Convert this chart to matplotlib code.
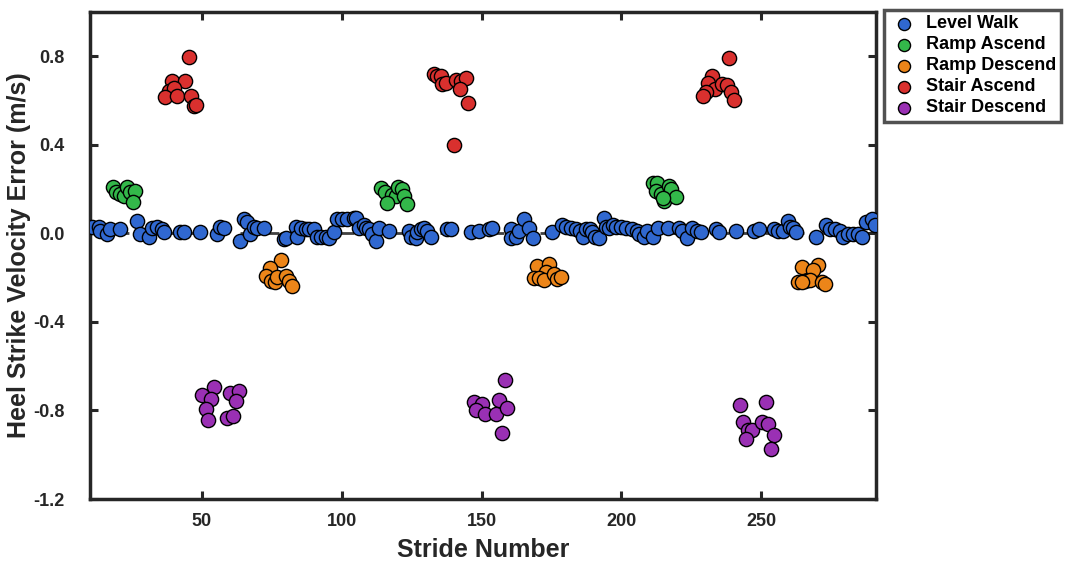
import matplotlib
matplotlib.use("Agg")
import matplotlib.pyplot as plt
import numpy as np

plt.rcParams['font.family'] = ['Liberation Sans', 'DejaVu Sans']
plt.rcParams['axes.unicode_minus'] = False

# Level Walk
lw_x = [10.6, 13.1, 13.5, 16.0, 17.1, 20.7, 26.7, 27.8, 31.0, 32.1, 33.9, 35.7, 36.4,
        42.1, 43.6, 49.3, 55.4, 56.5, 57.9, 63.6, 65.0, 66.1, 67.2, 68.6, 69.7, 72.2, 79.4,
        80.1, 83.7, 84.0, 85.5, 87.2, 88.3, 90.1, 91.2, 92.6, 94.4, 95.5, 97.3, 98.3, 100.1,
        101.9, 104.4, 105.1, 106.2, 108.0, 108.7, 109.8, 110.9, 112.3, 113.4, 116.9, 124.1,
        124.8, 126.6, 127.0, 128.4, 129.5, 130.5, 132.0, 137.7, 139.1, 146.3, 149.1,
        152.7, 153.8, 160.6, 160.6, 162.4, 163.5, 165.3, 167.1, 168.2, 175.3, 178.9, 180.3,
        182.1, 183.9, 185.0, 186.1, 187.5, 188.6, 189.6, 190.4, 192.1, 193.9, 194.6, 195.7,
        196.8, 198.2, 200.0, 201.8, 203.6, 205.4, 206.4, 208.2, 209.3, 211.1, 212.9, 216.5,
        220.7, 221.7, 223.5, 225.3, 227.1, 228.5, 233.9, 235.0, 241.1, 247.5, 249.3, 254.7,
        255.8, 257.6, 259.4, 260.1, 261.2, 262.5, 269.7, 273.3, 274.4, 276.2, 278.0, 279.1,
        280.9, 282.7, 284.4, 285.9, 287.6, 289.4, 290.5]
lw_y = [0.03, 0.03, 0.01, -0.005, 0.02, 0.02, 0.055, -0.005, -0.015, 0.025, 0.03, 0.02, 0.005,
        0.005, 0.005, 0.005, -0.005, 0.03, 0.025, -0.035, 0.065, 0.05, -0.005, 0.03, 0.025, 0.025, -0.025,
        -0.02, 0.03, -0.015, 0.025, 0.02, 0.02, 0.02, -0.015, -0.015, -0.015, -0.02, 0.005, 0.065, 0.065,
        0.065, 0.07, 0.07, 0.025, 0.04, 0.025, 0.02, -0.005, -0.035, 0.025, 0.01, 0.01,
        -0.015, -0.02, 0.005, 0.02, 0.025, 0.01, -0.015, 0.02, 0.02, 0.005, 0.01,
        0.02, 0.025, 0.02, -0.02, -0.015, 0.01, 0.065, 0.025, -0.02, 0.005, 0.04, 0.03,
        0.025, 0.02, 0.01, -0.015, 0.02, 0.02, 0.005, -0.015, -0.02, 0.07, 0.03, 0.025,
        0.04, 0.03, 0.03, 0.025, 0.02, 0.01, -0.005, -0.015, 0.01, -0.015, 0.025, 0.025,
        0.025, 0.01, -0.02, 0.025, 0.01, 0.005, 0.02, 0.005, 0.01, 0.01, 0.02, 0.02,
        0.01, 0.01, 0.055, 0.03, 0.025, 0.005, -0.015, 0.04, 0.02, 0.02, 0.01, -0.015,
        -0.005, -0.005, -0.005, -0.015, 0.05, 0.065, 0.04]

# Ramp Ascend
ra_x = [18.2, 19.2, 20.7, 22.1, 23.2, 24.2, 26.0, 25.3,
        114.1, 115.5, 118.0, 119.4, 120.2, 121.6, 122.3, 116.2, 123.4,
        211.2, 212.6, 212.3, 214.1, 215.1, 216.9, 217.7, 219.5, 214.8]
ra_y = [0.208, 0.185, 0.176, 0.167, 0.208, 0.185, 0.19, 0.14,
        0.203, 0.185, 0.172, 0.167, 0.208, 0.199, 0.167, 0.136, 0.131,
        0.226, 0.226, 0.19, 0.176, 0.145, 0.212, 0.199, 0.163, 0.158]

# Ramp Descend
rd_x = [78.3, 74.4, 72.9, 74.7, 76.1, 76.9, 80.1, 81.1, 82.2,
        169.9, 174.2, 173.1, 168.8, 170.6, 172.4, 176.0, 177.1, 178.5,
        264.4, 270.1, 268.3, 263.0, 265.5, 267.3, 271.6, 272.7, 264.7]
rd_y = [-0.122, -0.158, -0.194, -0.217, -0.221, -0.199, -0.194, -0.217, -0.24,
        -0.149, -0.14, -0.176, -0.203, -0.203, -0.212, -0.185, -0.208, -0.199,
        -0.154, -0.145, -0.167, -0.221, -0.217, -0.212, -0.221, -0.23, -0.221]

# Stair Ascend
sa_x = [45.4, 39.3, 43.9, 38.2, 40.0, 36.8, 41.1, 46.1, 47.2, 47.9,
        133.0, 134.1, 135.5, 135.9, 137.3, 140.9, 142.7, 144.5, 142.4, 145.2, 140.2,
        238.3, 232.2, 231.1, 233.3, 235.8, 237.6, 230.4, 229.0, 239.0, 240.4]
sa_y = [0.795, 0.687, 0.687, 0.642, 0.655, 0.615, 0.619, 0.619, 0.574, 0.579,
        0.719, 0.71, 0.71, 0.673, 0.678, 0.692, 0.687, 0.70, 0.651, 0.588, 0.398,
        0.791, 0.71, 0.678, 0.651, 0.673, 0.669, 0.637, 0.619, 0.637, 0.601]

# Stair Descend
sd_x = [54.3, 50.0, 53.2, 51.4, 52.2, 60.0, 63.3, 62.2, 59.0, 61.1,
        158.5, 147.4, 150.2, 148.1, 151.3, 155.3, 156.3, 159.2, 157.4,
        242.3, 251.6, 243.3, 245.1, 246.5, 244.4, 250.2, 252.3, 254.5, 253.4]
sd_y = [-0.692, -0.732, -0.746, -0.795, -0.845, -0.723, -0.71, -0.759, -0.836, -0.827,
        -0.664, -0.764, -0.773, -0.80, -0.814, -0.818, -0.755, -0.791, -0.904,
        -0.777, -0.764, -0.854, -0.89, -0.89, -0.927, -0.85, -0.859, -0.913, -0.972]

labels = ["Level Walk", "Ramp Ascend", "Ramp Descend", "Stair Ascend", "Stair Descend"]
colors = ["#3068D0", "#33B84A", "#EC8519", "#D9302E", "#9A30B4"]
series = [(lw_x, lw_y), (ra_x, ra_y), (rd_x, rd_y), (sa_x, sa_y), (sd_x, sd_y)]

fig = plt.figure(figsize=(10.73, 5.64), dpi=100)
ax = fig.add_axes([90/1073, 65/564, (876-90)/1073, (552-65)/564])

ax.axhline(0, color="#404040", linestyle=(0, (5, 4)), linewidth=2, zorder=1)
handles = []
for (xs, ys), c, lab in zip(series, colors, labels):
    h = ax.scatter(xs, ys, s=105, c=c, edgecolors="black", linewidths=1.0, label=lab, zorder=3)
    handles.append(h)

ax.set_xlim(10, 291)
ax.set_ylim(-1.2, 1.0)
ax.set_xticks([50, 100, 150, 200, 250])
ax.set_yticks([-1.2, -0.8, -0.4, 0.0, 0.4, 0.8])
ax.set_yticklabels([f"{v:.1f}" for v in [-1.2, -0.8, -0.4, 0.0, 0.4, 0.8]])
ax.tick_params(direction="in", length=6, width=2.2, top=True, right=True,
               labelsize=13, colors="#262626")
ax.tick_params(axis="x", pad=10)
ax.tick_params(axis="y", pad=18)
for lab in ax.get_xticklabels() + ax.get_yticklabels():
    lab.set_fontweight("bold")
for sp in ax.spines.values():
    sp.set_linewidth(2.5)
    sp.set_color("#262626")

ax.set_xlabel("Stride Number", fontsize=18, fontweight="bold", color="#262626", labelpad=6)
ax.set_ylabel("Heel Strike Velocity Error (m/s)", fontsize=18, fontweight="bold",
              color="#262626")
ax.yaxis.set_label_coords((31 - 90) / 786, 0.5)

leg = fig.legend(handles=handles, labels=labels, loc="upper left",
                 bbox_to_anchor=(884/1073, 1 - 10/564), borderaxespad=0,
                 prop={"weight": "bold", "size": 13}, frameon=True, fancybox=False,
                 handletextpad=0.4, labelspacing=0.22, borderpad=0.3, handlelength=1.6,
                 markerscale=0.85)
leg.get_frame().set_edgecolor("#262626")
leg.get_frame().set_linewidth(2.5)

fig.savefig("out.png", dpi=100)
